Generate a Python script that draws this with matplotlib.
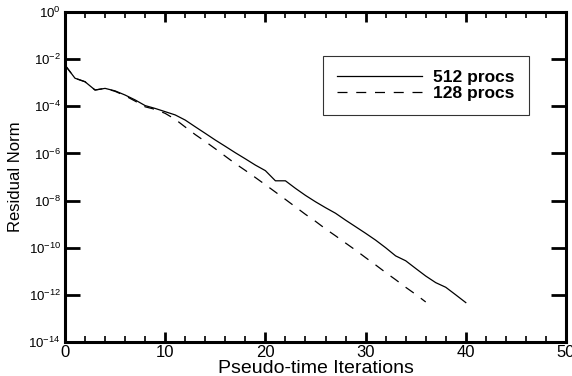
import matplotlib
matplotlib.use("Agg")
import matplotlib.pyplot as plt
from matplotlib.ticker import FixedLocator, MultipleLocator, FixedFormatter

plt.rcParams["font.family"] = ["Liberation Sans", "DejaVu Sans"]
plt.rcParams["mathtext.fontset"] = "custom"
plt.rcParams["mathtext.rm"] = "Liberation Sans"
plt.rcParams["mathtext.it"] = "Liberation Sans"

# residual history
iters_512 = list(range(0, 41))
resid_512 = [5.6e-3, 1.55e-3, 1.1e-3, 4.9e-4, 5.75e-4, 4.5e-4, 3.0e-4, 1.86e-4, 1.07e-4, 8.1e-5,
             5.9e-5, 4.3e-5, 2.6e-5, 1.35e-5, 7.1e-6, 3.7e-6, 2.0e-6, 1.07e-6, 5.9e-7, 3.2e-7,
             1.86e-7, 6.9e-8, 6.9e-8, 3.3e-8, 1.66e-8, 8.9e-9, 5.0e-9, 2.9e-9, 1.48e-9, 7.8e-10,
             4.1e-10, 2.1e-10, 1.0e-10, 4.5e-11, 2.8e-11, 1.32e-11, 6.3e-12, 3.3e-12, 2.1e-12, 1.0e-12,
             4.7e-13]

iters_128 = list(range(0, 37))
resid_128 = [5.6e-3, 1.55e-3, 1.1e-3, 4.9e-4, 5.75e-4, 4.3e-4, 2.8e-4, 1.66e-4, 9.5e-5, 7.4e-5,
             5.0e-5, 2.8e-5, 1.32e-5, 6.3e-6, 3.2e-6, 1.58e-6, 7.6e-7, 3.7e-7, 1.9e-7, 9.5e-8,
             4.7e-8, 2.3e-8, 1.12e-8, 5.4e-9, 2.6e-9, 1.32e-9, 6.3e-10, 3.2e-10, 1.58e-10, 7.9e-11,
             3.8e-11, 1.86e-11, 8.9e-12, 4.4e-12, 2.1e-12, 1.05e-12, 5.0e-13]

y_exps = [0, -2, -4, -6, -8, -10, -12, -14]
y_ticks = [10.0 ** e for e in y_exps]
y_labels = ["$10^{%d}$" % e for e in y_exps]

fig = plt.figure(figsize=(5.72, 3.76), dpi=100)
ax = fig.add_axes([0.1136, 0.0904, 0.8759, 0.8777])

ax.plot(iters_512, resid_512, color="black", lw=0.9, ls="-", label="512 procs")
ax.plot(iters_128, resid_128, color="black", lw=0.9, ls=(0, (8, 7)), label="128 procs")

ax.set_yscale("log")
ax.set_xlim(0, 50)
ax.set_ylim(1e-14, 1)

ax.yaxis.set_major_locator(FixedLocator(y_ticks))
ax.yaxis.set_major_formatter(FixedFormatter(y_labels))
ax.yaxis.set_minor_locator(FixedLocator([]))
ax.xaxis.set_major_locator(MultipleLocator(10))
ax.xaxis.set_minor_locator(MultipleLocator(2))

for s in ax.spines.values():
    s.set_linewidth(2.2)

ax.tick_params(axis="y", which="major", direction="in", length=11, width=2, left=True, right=True,
               labelsize=9.5, pad=3)
ax.tick_params(axis="x", which="major", direction="in", length=7, width=2, top=True, bottom=True,
               labelsize=12, pad=2)
ax.tick_params(axis="x", which="minor", direction="in", length=4, width=1.2, top=True, bottom=True)

ax.set_xlabel("Pseudo-time Iterations", fontsize=14, labelpad=0)
ax.set_ylabel("Residual Norm", fontsize=12, labelpad=4)

leg = ax.legend(loc="upper left", bbox_to_anchor=(0.514, 0.868), fancybox=False, frameon=True,
                edgecolor="black", prop={"weight": "bold", "size": 12.5}, handlelength=4.9,
                borderpad=0.85, labelspacing=0.0, handletextpad=0.6, borderaxespad=0)
leg.get_frame().set_linewidth(0.8)

fig.savefig("out.png", dpi=100)
